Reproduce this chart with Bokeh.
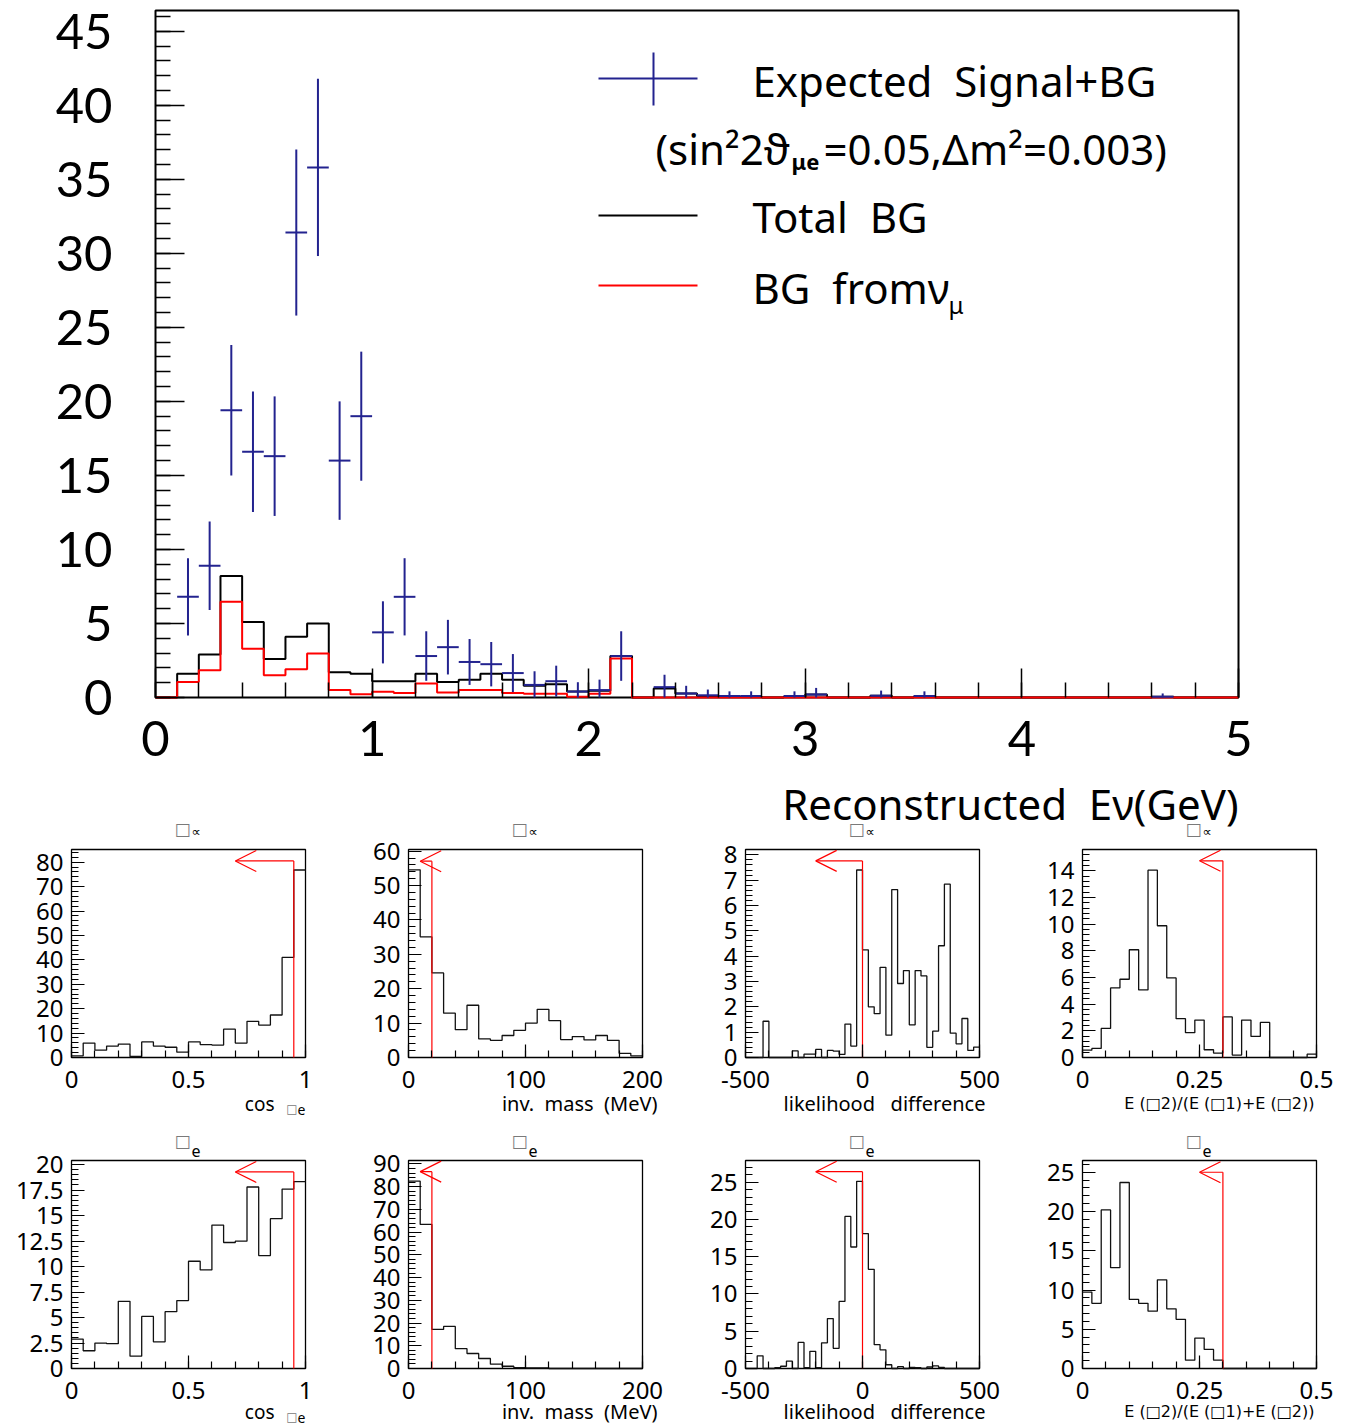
import numpy as np
from bokeh.plotting import figure
from bokeh.models import Label, Arrow, OpenHead, FixedTicker, Range1d
from bokeh.layouts import column, row
from bokeh.embed import file_html
from bokeh.resources import INLINE

FONT = "Noto Sans"
TICKF = "Lato"
SYMF = "DejaVu Sans"
BLUE = "#23238f"
TOFU = "#7a7a7a"
NB = "\u00a0"

# ---------------- main histogram: Reconstructed E_nu (GeV), 0.1 GeV bins ----------------
main_edges = np.linspace(0.0, 5.0, 51)
total_bg = [0, 1.6, 2.9, 8.2, 5.1, 2.6, 4.1, 5.0, 1.7, 1.6,
            1.1, 1.1, 1.6, 1.05, 1.2, 1.6, 1.2, 0.8, 0.9, 0.4,
            0.45, 2.8, 0, 0.6, 0.27, 0.1, 0.05, 0.05, 0, 0.05,
            0.2, 0, 0, 0.12, 0, 0.05, 0, 0, 0, 0,
            0, 0, 0, 0, 0, 0, 0.05, 0, 0, 0]
bg_from_numu = [0, 1.05, 1.84, 6.46, 3.3, 1.5, 1.9, 2.97, 0.5, 0.22,
                0.38, 0.3, 0.95, 0.33, 0.5, 0.5, 0.3, 0.25, 0.25, 0.05,
                0.25, 2.63, 0, 0, 0, 0, 0, 0, 0, 0,
                0, 0, 0, 0, 0, 0, 0, 0, 0, 0,
                0, 0, 0, 0, 0, 0, 0, 0, 0, 0]
signal_plus_bg = [0, 6.8, 8.9, 19.4, 16.6, 16.3, 31.4, 35.8, 16.0, 19.0,
                  4.4, 6.8, 2.8, 3.4, 2.4, 2.25, 1.65, 0.85, 1.1, 0.4,
                  0.5, 2.8, 0, 0.7, 0.27, 0.15, 0.1, 0.1, 0, 0.1,
                  0.2, 0, 0, 0.12, 0, 0.1, 0, 0, 0, 0,
                  0, 0, 0, 0, 0, 0, 0.05, 0, 0, 0]
main_ymax = 46.4
main_xticks = [0, 1, 2, 3, 4, 5]
main_yticks = [0, 5, 10, 15, 20, 25, 30, 35, 40, 45]

# ---------------- small panels ----------------
cos_edges = np.linspace(0.0, 1.0, 21)
mass_edges = np.linspace(0.0, 200.0, 21)
like_edges = np.linspace(-500.0, 500.0, 41)
eratio_edges = np.linspace(0.0, 0.5, 26)

cos_numu = [0.7, 5.9, 3.0, 4.7, 5.5, 0.4, 6.4, 4.7, 4.2, 2.2,
            6.4, 5.3, 5.1, 11.6, 5.9, 14.8, 13.3, 17.4, 41.0, 76.8]
mass_numu = [54.6, 35.1, 24.6, 12.9, 8.1, 15.2, 5.4, 5.0, 6.4, 7.9,
             10.0, 14.0, 10.7, 5.2, 6.1, 5.1, 6.4, 5.0, 1.2, 0.5]
like_numu = [0, 0, 0, 1.43, 0, 0, 0, 0, 0.26, 0,
             0.13, 0.13, 0.32, 0, 0.28, 0.25, 0.12, 1.32, 0.45, 7.4,
             4.25, 2.0, 1.73, 3.56, 0.88, 6.63, 2.92, 3.43, 1.29, 3.43,
             3.22, 0.4, 1.04, 4.41, 6.84, 0.96, 0.54, 1.54, 0.28, 0.41]
eratio_numu = [0.55, 0.68, 2.18, 5.22, 5.87, 8.08, 5.07, 14.05, 9.88, 5.97,
               2.91, 1.86, 2.81, 0.58, 0.33, 3.04, 0.18, 2.81, 1.58, 2.63,
               0, 0, 0, 0, 0.25]

cos_nue = [2.89, 1.74, 2.49, 2.43, 6.59, 1.21, 5.11, 2.62, 5.57, 6.66,
           10.52, 9.67, 14.07, 12.36, 12.49, 17.8, 11.08, 14.69, 17.6, 18.33]
mass_nue = [82.4, 63.4, 17.2, 18.5, 8.7, 6.6, 4.4, 1.9, 1.0, 0.4,
            0.3, 0.3, 0, 0, 0, 0, 0, 0, 0, 0]
like_nue = [0, 0, 1.7, 0, 0, 0.1, 0.3, 1.0, 0, 3.5,
            0.1, 2.3, 0.1, 3.45, 6.7, 2.7, 9.0, 20.4, 16.3, 25.1,
            18.1, 13.3, 3.2, 2.5, 0.5, 0, 0.25, 0, 0.15, 0.1,
            0, 0.2, 0.35, 0.15, 0, 0, 0, 0, 0, 0]
eratio_nue = [9.74, 8.3, 20.2, 12.85, 23.7, 8.8, 8.3, 7.3, 11.3, 7.6,
              6.26, 1.06, 3.87, 2.43, 1.06, 0, 0, 0, 0, 0,
              0, 0, 0, 0, 0]

cut_values = [0.95, 20, 0, 0.3]
cut_arrow_tips = [0.70, 10, -200, 0.25]
ymax_numu = [85.2, 60.5, 8.21, 15.6]
ymax_nue = [20.4, 91.5, 27.9, 26.5]
arrow_y_numu = [80.5, 57.1, 7.76, 14.75]
arrow_y_nue = [19.28, 86.6, 26.4, 25.0]
y_int_numu = [10, 10, 1, 2]
y_int_nue = [2.5, 10, 5, 5]
x_int = [0.5, 100, 500, 0.25]


def lab(fig, x, y, text, size, align="left", baseline="middle", font=FONT, style="normal",
        color="black"):
    fig.add_layout(Label(x=x, y=y, text=text, text_font=font, text_font_size=size,
                         text_align=align, text_baseline=baseline, text_color=color,
                         text_font_style=style))


def label_map(vals):
    d = {}
    for v in vals:
        v = round(float(v), 4)
        if v.is_integer():
            d[int(v)] = str(int(v))
        else:
            d[v] = "%g" % v
    return d


def canvas(W, H, L, T, FWp, FHp, xmin, xmax, ymax):
    """Figure whose plotting area is the whole canvas; the data box sits at (L, T) with size FWp x FHp."""
    dxu = (xmax - xmin) / FWp
    dyu = ymax / FHp
    f = figure(width=W, height=H,
               x_range=Range1d(xmin - L * dxu, xmax + (W - L - FWp) * dxu),
               y_range=Range1d(-(H - T - FHp) * dyu, ymax + T * dyu),
               output_backend="svg", toolbar_location=None, title=None,
               min_border_left=0, min_border_right=0, min_border_top=0, min_border_bottom=0)
    f.outline_line_color = None
    f.grid.visible = False
    f.xaxis.fixed_location = 0
    f.yaxis.fixed_location = xmin
    f.xaxis.axis_line_color = None
    f.yaxis.axis_line_color = None
    return f, dxu, dyu


def style_axes(f, tick_in, minor_in, size, xstand, ystand, lw, font):
    for ax in (f.xaxis[0], f.yaxis[0]):
        ax.major_tick_in = tick_in
        ax.major_tick_out = 0
        ax.minor_tick_in = minor_in
        ax.minor_tick_out = 0
        ax.major_tick_line_width = lw
        ax.minor_tick_line_width = lw
        ax.major_label_text_font = font
        ax.major_label_text_font_size = size
        ax.major_label_text_color = "black"
    f.xaxis.major_label_standoff = xstand
    f.yaxis.major_label_standoff = ystand


# ---------------- main figure ----------------
MW, MH, ML, MT, MFW, MFH = 1345, 840, 155, 10, 1083, 687
p, mdx, mdy = canvas(MW, MH, ML, MT, MFW, MFH, 0.0, 5.0, main_ymax)
p.xaxis.ticker = FixedTicker(ticks=main_xticks,
                             minor_ticks=[round(0.2 * k, 2) for k in range(26)])
p.yaxis.ticker = FixedTicker(ticks=main_yticks, minor_ticks=list(range(0, 47)))
style_axes(p, 29, 15, "49px", 23, 43, 1.5, TICKF)


def mx(px):
    return (px - ML) * mdx


def my(py):
    return (MT + MFH - py) * mdy


p.quad(left=[0], right=[5], bottom=[0], top=[main_ymax], fill_color=None,
       line_color="black", line_width=2)
p.step(x=list(main_edges), y=total_bg + [total_bg[-1]], mode="after",
       line_color="black", line_width=2)
p.step(x=list(main_edges), y=bg_from_numu + [bg_from_numu[-1]], mode="after",
       line_color="red", line_width=2)

sig = np.array(signal_plus_bg)
m = sig > 0
lo, hi = main_edges[:-1][m], main_edges[1:][m]
cen = (lo + hi) / 2
err = np.sqrt(sig[m])
p.segment(x0=lo, x1=hi, y0=sig[m], y1=sig[m], line_color=BLUE, line_width=2)
p.segment(x0=cen, x1=cen, y0=np.maximum(sig[m] - err, 0), y1=sig[m] + err,
          line_color=BLUE, line_width=2)

# legend
p.segment(x0=[mx(598)], x1=[mx(697)], y0=[my(78)], y1=[my(78)], line_color=BLUE, line_width=2)
p.segment(x0=[mx(653)], x1=[mx(653)], y0=[my(52)], y1=[my(105)], line_color=BLUE, line_width=2)
p.segment(x0=[mx(598)], x1=[mx(697)], y0=[my(215)], y1=[my(215)], line_color="black", line_width=2)
p.segment(x0=[mx(598)], x1=[mx(697)], y0=[my(285)], y1=[my(285)], line_color="red", line_width=2)

lab(p, mx(752), my(80), "Expected" + NB + " Signal+BG", "42px")
lab(p, mx(655), my(148), "(sin²2ϑ", "42px")
lab(p, mx(791), my(160), "μe", "22px", style="bold")
lab(p, mx(823), my(148), "=0.05,Δm²=0.003)", "42px")
lab(p, mx(752), my(216), "Total" + NB + " BG", "42px")
lab(p, mx(752), my(287), "BG" + NB + " fromν", "42px")
lab(p, mx(948), my(304), "μ", "24px")
lab(p, 5.0, my(803), "Reconstructed" + NB + " Eν(GeV)", "42px", align="right")

# titles of the first row of small panels (they sit in the gap under the main axis title)
for cx in [188, 525, 862, 1199]:
    lab(p, mx(cx + 2), my(828), "□", "17px", align="right", baseline="alphabetic", font=SYMF,
        color=TOFU)
    lab(p, mx(cx + 3), my(831), "∝", "13px", align="left", baseline="middle", font=SYMF)

# ---------------- small panels ----------------
SL, SFW, SFH = 71, 234, 208


def panel(edges, vals, ymax, xint, yint, cut, tip, ay, kind, cell_w, cell_h, top, title_sub,
          label_drop):
    xmin, xmax = float(edges[0]), float(edges[-1])
    f, dxu, dyu = canvas(cell_w, cell_h, SL, top, SFW, SFH, xmin, xmax, ymax)
    xt = [round(v, 4) for v in np.arange(xmin, xmax + 1e-9, xint)]
    xm = [round(v, 4) for v in np.arange(xmin, xmax + 1e-9, xint / 5)]
    nyt = int(ymax / yint + 1e-9)
    yt = [round(k * yint, 4) for k in range(nyt + 1)]
    ym = [round(k * yint / 5, 4) for k in range(int(ymax / (yint / 5) + 1e-9) + 1)]
    f.xaxis.ticker = FixedTicker(ticks=xt, minor_ticks=xm)
    f.yaxis.ticker = FixedTicker(ticks=yt, minor_ticks=ym)
    f.xaxis.major_label_overrides = label_map(xt)
    f.yaxis.major_label_overrides = label_map(yt)
    style_axes(f, 13, 7, "24px", 13, 8, 1.2, FONT)

    f.quad(left=[xmin], right=[xmax], bottom=[0], top=[ymax], fill_color=None,
           line_color="black", line_width=1.3)
    f.step(x=list(edges), y=list(vals) + [vals[-1]], mode="after",
           line_color="#111111", line_width=1.3)
    f.segment(x0=[cut], x1=[cut], y0=[0], y1=[ay], line_color="red", line_width=1.2)
    f.add_layout(Arrow(end=OpenHead(size=21, line_color="red", line_width=1.2),
                       x_start=cut, y_start=ay, x_end=tip, y_end=ay,
                       line_color="red", line_width=1.2))

    xc = (xmin + xmax) / 2
    if title_sub is not None:
        lab(f, xc + 2 * dxu, ymax + 20 * dyu, "□", "17px", align="right", baseline="alphabetic",
            font=SYMF, color=TOFU)
        lab(f, xc + 3 * dxu, ymax + 10 * dyu, title_sub, "16px", align="left", baseline="alphabetic")
    ylab = -label_drop * dyu
    if kind == "cos":
        lab(f, xmax - 31 * dxu, ylab, "cos", "19px", align="right")
        lab(f, xmax - 8 * dxu, ylab - 5 * dyu, "□", "12px", align="right", font=SYMF, color=TOFU)
        lab(f, xmax - 8 * dxu, ylab - 6 * dyu, "e", "14px", align="left")
    elif kind == "mass":
        lab(f, xmax + 15 * dxu, ylab, "inv." + NB + " mass" + NB + " (MeV)", "20px", align="right")
    elif kind == "like":
        lab(f, xmax + 6 * dxu, ylab, "likelihood" + NB + NB + " difference", "20px", align="right")
    else:
        lab(f, xmax - 2 * dxu, ylab, "E (□2)/(E (□1)+E (□2))", "16px", align="right", font=SYMF)
    return f


cell_ws = [337, 337, 337, 334]
kinds = ["cos", "mass", "like", "eratio"]
edges_list = [cos_edges, mass_edges, like_edges, eratio_edges]
numu_vals = [cos_numu, mass_numu, like_numu, eratio_numu]
nue_vals = [cos_nue, mass_nue, like_nue, eratio_nue]

row1, row2 = [], []
for i in range(4):
    row1.append(panel(edges_list[i], numu_vals[i], ymax_numu[i], x_int[i], y_int_numu[i],
                      cut_values[i], cut_arrow_tips[i], arrow_y_numu[i], kinds[i],
                      cell_ws[i], 285, 9, None, 46))
    row2.append(panel(edges_list[i], nue_vals[i], ymax_nue[i], x_int[i], y_int_nue[i],
                      cut_values[i], cut_arrow_tips[i], arrow_y_nue[i], kinds[i],
                      cell_ws[i], 300, 35, "e", 43))

layout = column(p, row(*row1), row(*row2))
open("out.html", "w").write(file_html(layout, INLINE))
